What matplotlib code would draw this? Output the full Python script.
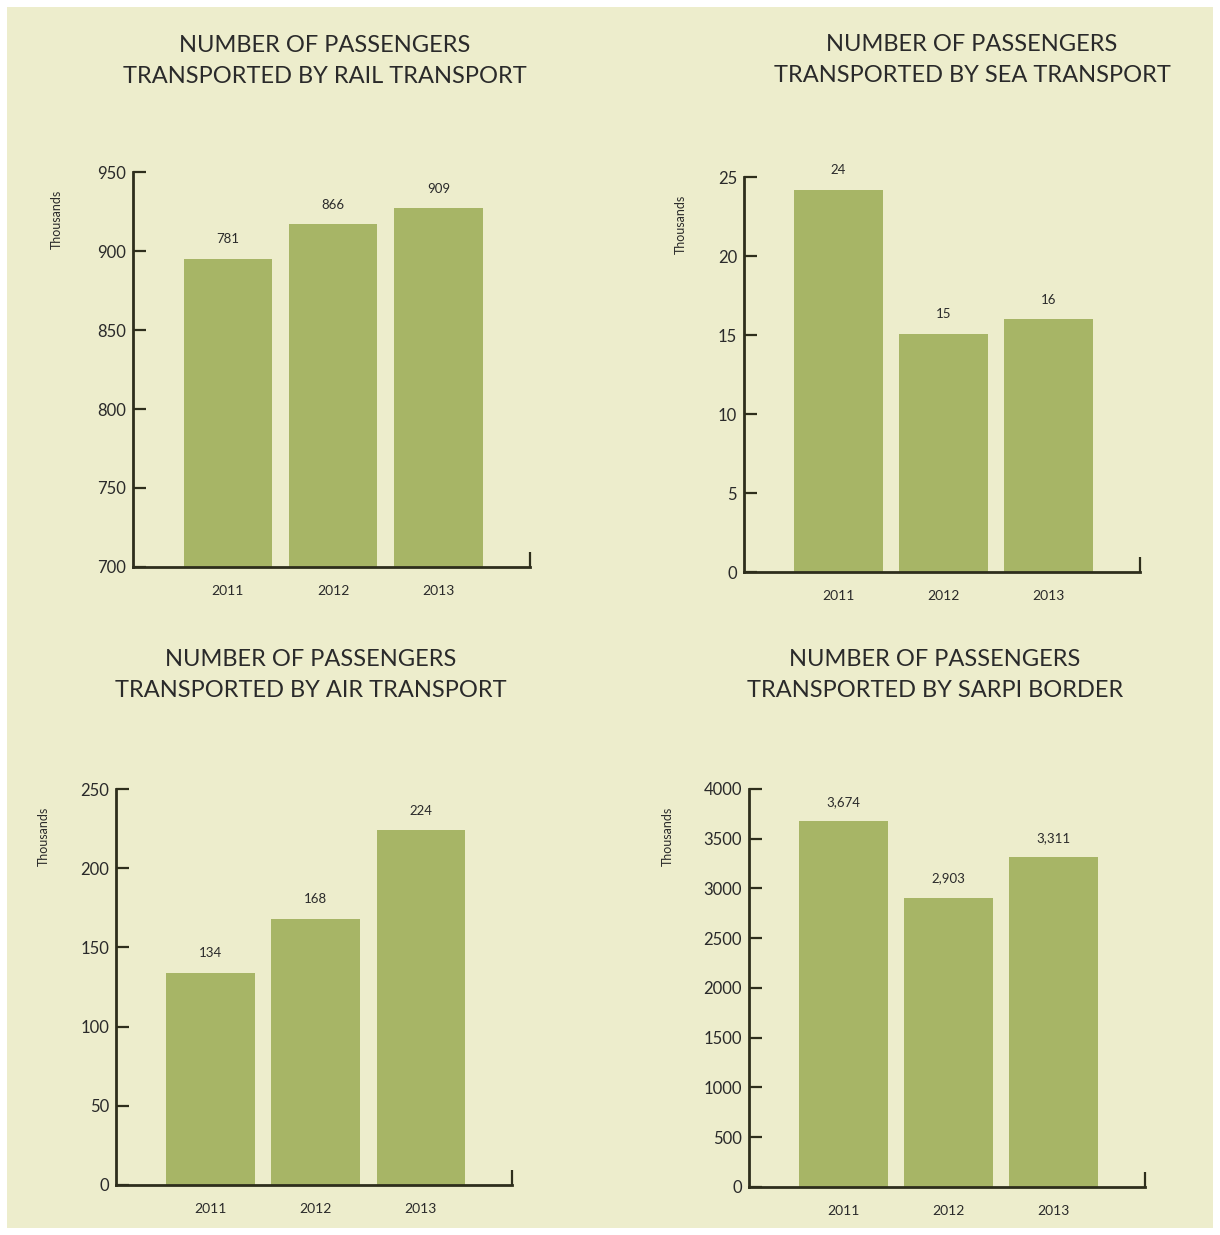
import matplotlib.pyplot as plt
from matplotlib.patches import Rectangle
import numpy as np

# data
years = ['2011', '2012', '2013']

rail_values = [895, 917, 927]          # bar heights as drawn
rail_labels = ['781', '866', '909']    # printed labels
sea_values = [24.2, 15.1, 16.0]
sea_labels = ['24', '15', '16']
air_values = [134, 168, 224]
air_labels = ['134', '168', '224']
sarpi_values = [3674, 2903, 3311]
sarpi_labels = ['3,674', '2,903', '3,311']

BG = '#EDEDCC'
BAR = '#A7B566'
AXIS = '#2E2E1C'
TEXT = '#2A2A2A'

plt.rcParams['font.family'] = ['Lato', 'DejaVu Sans']

fig = plt.figure(figsize=(12.2, 12.35), dpi=100)
fig.patch.set_facecolor('white')
fig.patches.append(Rectangle((7 / 1220, 7 / 1235), 1206 / 1220, 1221 / 1235,
                             transform=fig.transFigure, facecolor=BG,
                             edgecolor='none', zorder=-10))

panels = [
    # rect, values, labels, ylim, ticks, ylabel pos, title, title pos
    ([0.1090, 0.5409, 0.3254, 0.3198], rail_values, rail_labels, (700, 950),
     np.arange(700, 951, 50), (-0.176, 0.88),
     'NUMBER OF PASSENGERS\nTRANSPORTED BY RAIL TRANSPORT', (0.2664, 0.9506)),
    ([0.6098, 0.5368, 0.3246, 0.3198], sea_values, sea_labels, (0, 25),
     np.arange(0, 26, 5), (-0.144, 0.88),
     'NUMBER OF PASSENGERS\nTRANSPORTED BY SEA TRANSPORT', (0.7967, 0.9514)),
    ([0.0951, 0.0405, 0.3246, 0.3206], air_values, air_labels, (0, 250),
     np.arange(0, 251, 50), (-0.167, 0.88),
     'NUMBER OF PASSENGERS\nTRANSPORTED BY AIR TRANSPORT', (0.2549, 0.4534)),
    ([0.6139, 0.0389, 0.3246, 0.3223], sarpi_values, sarpi_labels, (0, 4000),
     np.arange(0, 4001, 500), (-0.19, 0.88),
     'NUMBER OF PASSENGERS\nTRANSPORTED BY SARPI BORDER', (0.7664, 0.4534)),
]

for rect, values, labels, ylim, ticks, ylab_pos, title, title_pos in panels:
    ax = fig.add_axes(rect)
    ax.set_facecolor('none')
    x = np.arange(len(years))
    bars = ax.bar(x, values, width=0.84, color=BAR, zorder=2)
    for b, lab in zip(bars, labels):
        ax.annotate(lab, (b.get_x() + b.get_width() / 2, b.get_height()),
                    xytext=(0, 14), textcoords='offset points',
                    ha='center', va='center', fontsize=9.5, color=TEXT)

    ax.set_xlim(-0.9, 2.87)
    ax.set_ylim(*ylim)
    ax.set_yticks(ticks)
    ax.set_xticks(x)
    ax.set_xticklabels(years)
    ax.set_xticks([2.87], minor=True)

    for side in ['top', 'right']:
        ax.spines[side].set_visible(False)
    for side in ['left', 'bottom']:
        ax.spines[side].set_color(AXIS)
        ax.spines[side].set_linewidth(2)
        ax.spines[side].set_zorder(3)

    ax.tick_params(axis='y', direction='in', length=9, width=1.6, color=AXIS,
                   pad=5, labelsize=12, labelcolor=TEXT)
    ax.tick_params(axis='x', which='major', length=0, pad=13,
                   labelsize=10, labelcolor=TEXT)
    ax.tick_params(axis='x', which='minor', direction='in', length=11,
                   width=1.6, color=AXIS)

    ax.set_ylabel('Thousands', fontsize=9, color=TEXT)
    ax.yaxis.set_label_coords(*ylab_pos)

    fig.text(title_pos[0], title_pos[1], title, ha='center', va='center',
             fontsize=17, color=TEXT, linespacing=1.55)

plt.savefig('out.png', dpi=100, facecolor=fig.get_facecolor())
